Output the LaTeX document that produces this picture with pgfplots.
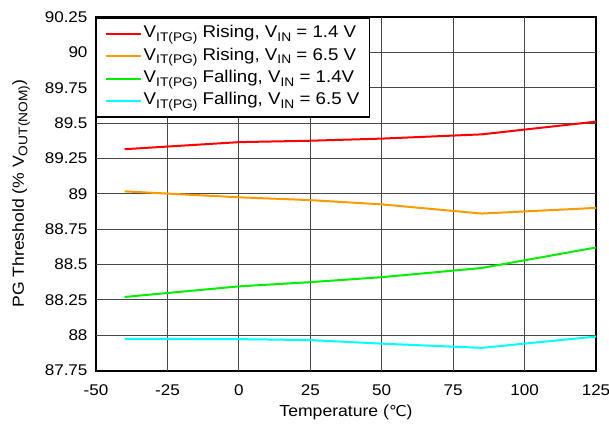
\documentclass[border=0pt]{standalone}
\usepackage{pgfplots}
\pgfplotsset{compat=1.18}
\usepackage{fontspec}
\setmainfont{Liberation Sans}[FakeStretch=1.1]
\newfontfamily\dejavu{DejaVu Sans}[FakeStretch=1.05]
\definecolor{cRed}{RGB}{255,0,0}
\definecolor{cOrange}{RGB}{255,153,0}
\definecolor{cGreen}{RGB}{0,240,0}
\definecolor{cCyan}{RGB}{0,255,255}
\newcommand\sub[1]{\raisebox{-0.22em}{\fontsize{12.5}{13}\selectfont #1}}
\begin{document}
\fontsize{16}{18}\selectfont
\begin{tikzpicture}
\begin{axis}[
  at={(0pt,0pt)}, anchor=south west,
  scale only axis,
  width=500pt, height=353.5pt,
  xmin=-50, xmax=125, ymin=87.75, ymax=90.25,
  xtick={-50,-25,...,125},
  ytick={87.75,88,88.25,88.5,88.75,89,89.25,89.5,89.75,90,90.25},
  yticklabels={87.75,88,88.25,88.5,88.75,89,89.25,89.5,89.75,90,90.25},
  /pgf/number format/assume math mode=true,
  tick label style={font=\fontsize{15.5}{18}\selectfont},
  label style={font=\fontsize{16}{18}\selectfont},
  xlabel={Temperature ({\dejavu\fontsize{15}{18}\selectfont ℃})},
  ylabel={PG Threshold (\% V\sub{OUT(NOM)})},
  xlabel style={yshift=2pt},
  ylabel style={yshift=4pt},
  tick style={draw=none},
  axis line style={black, line width=2pt},
  xticklabel style={yshift=-9pt},
  yticklabel style={xshift=-3pt},
  unbounded coords=jump,
  legend cell align=left,
  legend style={at={(0,1)}, anchor=north west, draw=black, line width=1.5pt,
    fill=white, font=\fontsize{17}{19}\selectfont, inner xsep=8pt, inner ysep=6pt,
    row sep=2.4pt, nodes={inner sep=2pt, text height=12pt, text depth=4pt}},
  legend image code/.code={\draw[#1, line width=2pt] (0pt,0pt) -- (35pt,0pt);},
]
% grid lines
\addplot[black!72, line width=0.9pt, forget plot] coordinates {
 (-25,87.75) (-25,90.25) (nan,nan)
 (0,87.75) (0,90.25) (nan,nan)
 (25,87.75) (25,90.25) (nan,nan)
 (50,87.75) (50,90.25) (nan,nan)
 (75,87.75) (75,90.25) (nan,nan)
 (100,87.75) (100,90.25) (nan,nan)
 (-50,88) (125,88) (nan,nan)
 (-50,88.25) (125,88.25) (nan,nan)
 (-50,88.5) (125,88.5) (nan,nan)
 (-50,88.75) (125,88.75) (nan,nan)
 (-50,89) (125,89) (nan,nan)
 (-50,89.25) (125,89.25) (nan,nan)
 (-50,89.5) (125,89.5) (nan,nan)
 (-50,89.75) (125,89.75) (nan,nan)
 (-50,90) (125,90)
};
\addplot[cRed, line width=2pt] coordinates {(-40,89.315) (0,89.365) (25,89.375) (50,89.39) (85,89.42) (125,89.51)};
\addlegendentry{V\sub{IT(PG)} Rising, V\sub{IN} = 1.4 V}
\addplot[cOrange, line width=2pt] coordinates {(-40,89.017) (0,88.975) (25,88.955) (50,88.925) (85,88.86) (125,88.90)};
\addlegendentry{V\sub{IT(PG)} Rising, V\sub{IN} = 6.5 V}
\addplot[cGreen, line width=2pt] coordinates {(-40,88.27) (0,88.345) (25,88.375) (50,88.41) (85,88.475) (125,88.62)};
\addlegendentry{V\sub{IT(PG)} Falling, V\sub{IN} = 1.4V}
\addplot[cCyan, line width=2pt] coordinates {(-40,87.974) (0,87.972) (25,87.965) (50,87.94) (85,87.91) (125,87.99)};
\addlegendentry{V\sub{IT(PG)} Falling, V\sub{IN} = 6.5 V}
\end{axis}
\pgfresetboundingbox
\path[use as bounding box] (-96pt,-53.5pt) rectangle (513pt,370.5pt);
\end{tikzpicture}
\end{document}
